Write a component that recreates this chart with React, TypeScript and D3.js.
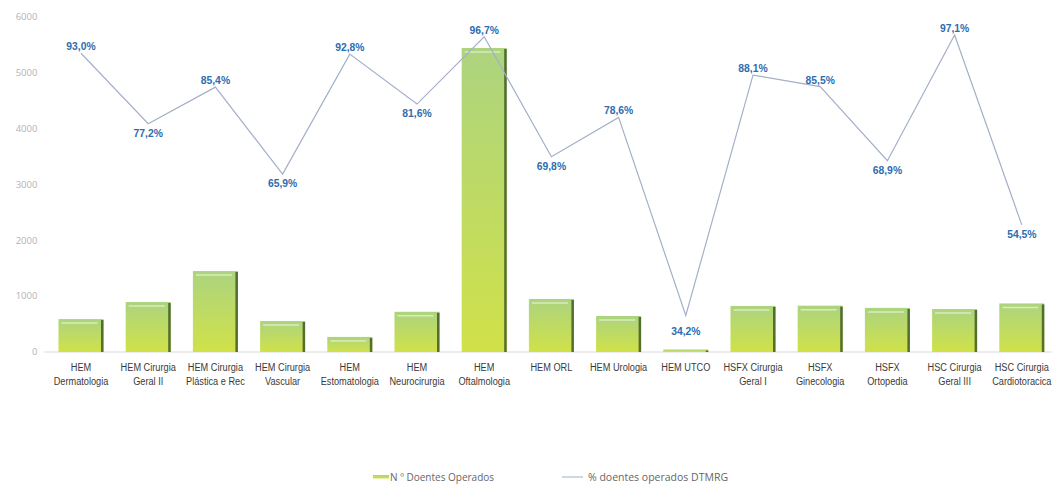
import { useRef, useEffect } from 'react'
import * as d3 from 'd3'

// Services (two-line labels as printed under the axis)
const categories = [
  'HEM Dermatologia',
  'HEM Cirurgia Geral II',
  'HEM Cirurgia Plástica e Rec',
  'HEM Cirurgia Vascular',
  'HEM Estomatologia',
  'HEM Neurocirurgia',
  'HEM Oftalmologia',
  'HEM ORL',
  'HEM Urologia',
  'HEM UTCO',
  'HSFX Cirurgia Geral I',
  'HSFX Ginecologia',
  'HSFX Ortopedia',
  'HSC Cirurgia Geral III',
  'HSC Cirurgia Cardiotoracica',
]

const categoryLines = [
  ['HEM', 'Dermatologia'],
  ['HEM Cirurgia', 'Geral II'],
  ['HEM Cirurgia', 'Plástica e Rec'],
  ['HEM Cirurgia', 'Vascular'],
  ['HEM', 'Estomatologia'],
  ['HEM', 'Neurocirurgia'],
  ['HEM', 'Oftalmologia'],
  ['HEM ORL'],
  ['HEM Urologia'],
  ['HEM UTCO'],
  ['HSFX Cirurgia', 'Geral I'],
  ['HSFX', 'Ginecologia'],
  ['HSFX', 'Ortopedia'],
  ['HSC Cirurgia', 'Geral III'],
  ['HSC Cirurgia', 'Cardiotoracica'],
]

// Nº doentes operados (bars, left axis)
const doentesOperados = [590, 895, 1450, 555, 270, 720, 5445, 950, 645, 45, 825, 830, 790, 770, 870]

// % doentes operados DTMRG (line, hidden right axis)
const percentDTMRG = [0.930, 0.772, 0.854, 0.659, 0.928, 0.816, 0.967, 0.698, 0.786, 0.342, 0.881, 0.855, 0.689, 0.971, 0.545]

const yTicks = [0, 1000, 2000, 3000, 4000, 5000, 6000]

const legendLabels = ['N º Doentes Operados', '% doentes operados DTMRG']

const App = () => {
  const svgRef = useRef<SVGSVGElement>(null)

  useEffect(() => {
    if (!svgRef.current) return
    const width = 1058
    const height = 488
    d3.select(svgRef.current).selectAll('*').remove()

    const margin = { top: 17, right: 2.6, bottom: 136, left: 47.4 }
    const innerWidth = width - margin.left - margin.right
    const innerHeight = height - margin.top - margin.bottom

    const svg = d3.select(svgRef.current).attr('width', width).attr('height', height)

    const defs = svg.append('defs')
    const grad = defs
      .append('linearGradient')
      .attr('id', 'barGrad')
      .attr('x1', 0)
      .attr('y1', 0)
      .attr('x2', 0)
      .attr('y2', 1)
    grad.append('stop').attr('offset', '0%').attr('stop-color', '#acd47f')
    grad.append('stop').attr('offset', '100%').attr('stop-color', '#d0e148')

    const g = svg.append('g').attr('transform', `translate(${margin.left},${margin.top})`)

    const x = d3
      .scaleBand<string>()
      .domain(categories)
      .range([0, innerWidth])
      .paddingInner(0.33)
      .paddingOuter(0.165)

    const y = d3.scaleLinear().domain([0, 6000]).range([innerHeight, 0])
    const yPct = d3.scaleLinear().domain([0.26, 1]).range([innerHeight, 5])
    const cx = (i: number) => (x(categories[i]) as number) + x.bandwidth() / 2

    // y tick labels
    g.selectAll('.ytick')
      .data(yTicks)
      .join('text')
      .attr('class', 'ytick')
      .attr('x', -10)
      .attr('y', (d) => y(d))
      .attr('dy', '0.35em')
      .attr('text-anchor', 'end')
      .attr('fill', '#b3b3b3')
      .style('font-family', '"Open Sans", "Liberation Sans", sans-serif')
      .style('font-size', '9.5px')
      .text((d) => String(d))

    // baseline
    g.append('line')
      .attr('x1', -3)
      .attr('x2', innerWidth - 4)
      .attr('y1', y(0))
      .attr('y2', y(0))
      .attr('stroke', '#d9d9d9')
      .attr('stroke-width', 1)

    // bars
    const barData = doentesOperados.map((v, i) => ({ v, cat: categories[i] }))
    const bars = g
      .selectAll('.bar')
      .data(barData)
      .join('g')
      .attr('class', 'bar')

    bars
      .append('rect')
      .attr('x', (d) => x(d.cat) as number)
      .attr('y', (d) => y(d.v))
      .attr('width', x.bandwidth())
      .attr('height', (d) => innerHeight - y(d.v))
      .attr('fill', 'url(#barGrad)')

    bars
      .append('rect')
      .attr('x', (d) => (x(d.cat) as number) + x.bandwidth() - 2.5)
      .attr('y', (d) => y(d.v) + 1)
      .attr('width', 2.5)
      .attr('height', (d) => Math.max(0, innerHeight - y(d.v) - 1))
      .attr('fill', '#3f5c24')
      .attr('opacity', 0.85)

    bars
      .filter((d) => innerHeight - y(d.v) > 8)
      .append('line')
      .attr('x1', (d) => (x(d.cat) as number) + 3)
      .attr('x2', (d) => (x(d.cat) as number) + x.bandwidth() - 6)
      .attr('y1', (d) => y(d.v) + 4)
      .attr('y2', (d) => y(d.v) + 4)
      .attr('stroke', '#eef5d8')
      .attr('stroke-width', 1.5)
      .attr('opacity', 0.7)

    // category labels (condensed)
    const labels = g
      .selectAll('.xlabel')
      .data(categoryLines)
      .join('text')
      .attr('class', 'xlabel')
      .attr('transform', (_, i) => `translate(${cx(i)},${innerHeight + 19}) scale(0.8,1)`)
      .attr('text-anchor', 'middle')
      .attr('fill', '#3a3a3a')
      .style('font-family', '"Liberation Sans", Arial, sans-serif')
      .style('font-size', '11.5px')

    labels
      .selectAll('tspan')
      .data((d) => d)
      .join('tspan')
      .attr('x', 0)
      .attr('y', (_, j) => j * 14)
      .text((d) => d)

    // percentage line
    const line = d3
      .line<number>()
      .x((_, i) => cx(i))
      .y((d) => yPct(d))

    g.append('path')
      .datum(percentDTMRG)
      .attr('fill', 'none')
      .attr('stroke', '#a3b0c8')
      .attr('stroke-width', 1.2)
      .attr('d', line)

    const isTrough = (i: number) => {
      const v = percentDTMRG[i]
      const prev = i > 0 ? percentDTMRG[i - 1] : Infinity
      const next = i < percentDTMRG.length - 1 ? percentDTMRG[i + 1] : Infinity
      return v < prev && v < next
    }

    g.selectAll('.plabel')
      .data(percentDTMRG)
      .join('text')
      .attr('class', 'plabel')
      .attr('transform', (d, i) => `translate(${cx(i)},${yPct(d) + (isTrough(i) ? (i === 9 ? 20 : 13) : -3)}) scale(0.9,1)`)
      .attr('text-anchor', 'middle')
      .attr('fill', '#2c6db0')
      .style('font-family', '"Liberation Sans", Arial, sans-serif')
      .style('font-weight', 'bold')
      .style('font-size', '11.5px')
      .text((d) => (d * 100).toFixed(1).replace('.', ',') + '%')

    // legend
    const legend = svg.append('g').attr('transform', `translate(373, 477)`)
    legend
      .append('rect')
      .attr('x', 0)
      .attr('y', -2)
      .attr('width', 16)
      .attr('height', 3.5)
      .attr('fill', 'url(#barGrad)')
    legend
      .append('text')
      .attr('x', 17)
      .attr('y', 0)
      .attr('dy', '0.35em')
      .attr('fill', '#666')
      .style('font-family', '"Open Sans", "Liberation Sans", sans-serif')
      .style('font-size', '10px')
      .text(legendLabels[0])

    legend
      .append('line')
      .attr('x1', 189)
      .attr('x2', 210)
      .attr('y1', 0)
      .attr('y2', 0)
      .attr('stroke', '#b3bccd')
      .attr('stroke-width', 1.2)
    legend
      .append('text')
      .attr('x', 215)
      .attr('y', 0)
      .attr('dy', '0.35em')
      .attr('fill', '#666')
      .style('font-family', '"Open Sans", "Liberation Sans", sans-serif')
      .style('font-size', '10.5px')
      .text(legendLabels[1])
  }, [])

  return (
    <svg
      ref={svgRef}
      style={{ position: 'absolute', left: 0, top: 0, background: '#fff' }}
    />
  )
}

export default App
